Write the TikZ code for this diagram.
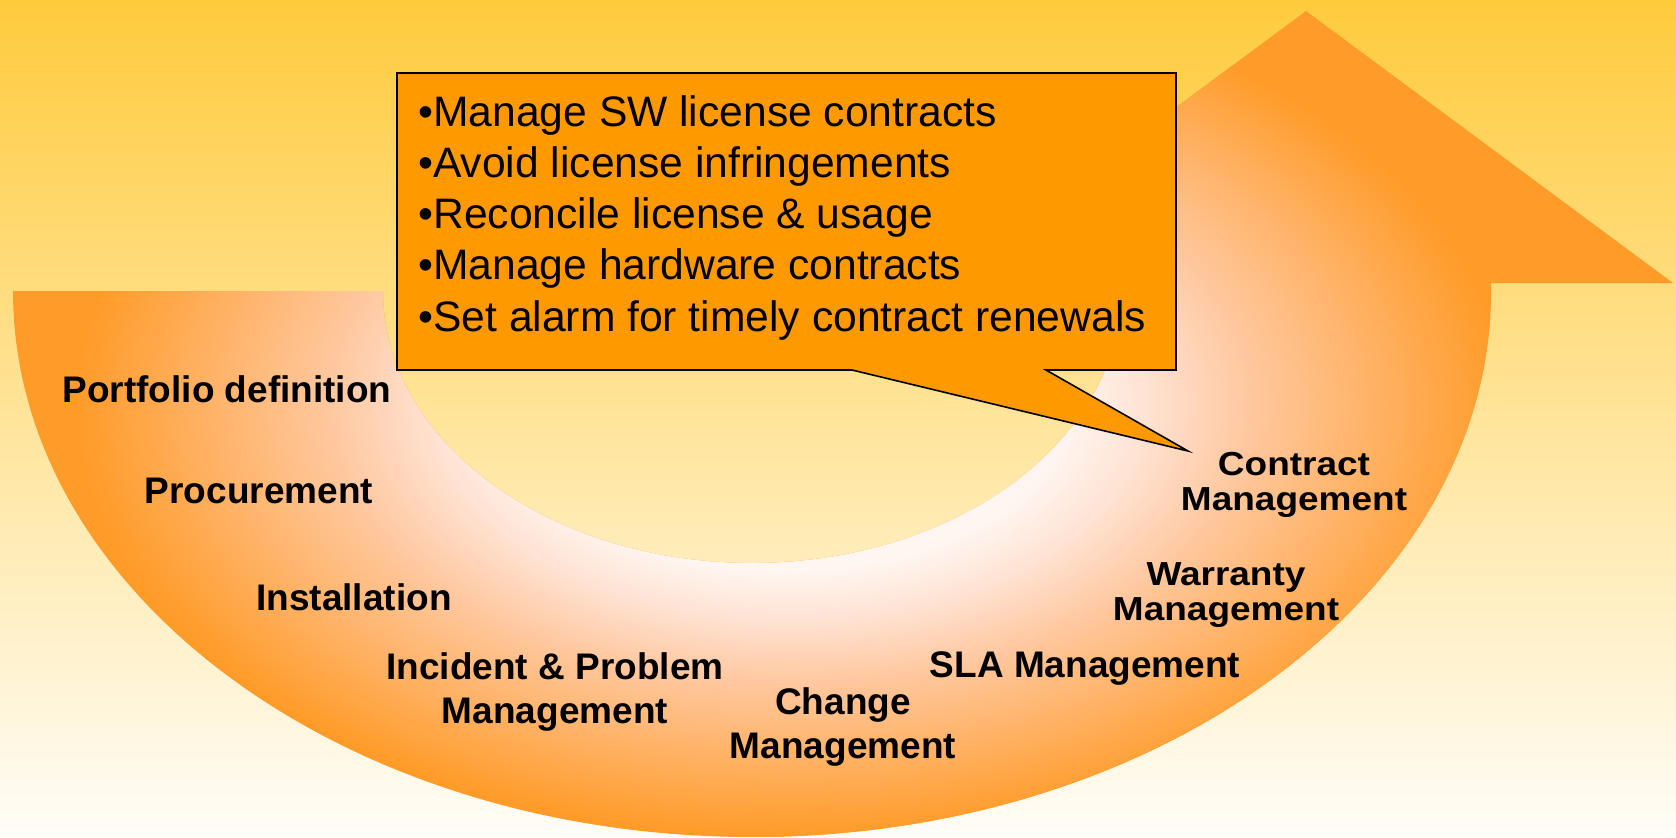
\documentclass[tikz,border=0pt]{standalone}
\usepackage{fontspec}
\setmainfont{Liberation Sans}

\definecolor{bgtop}{HTML}{FFCB3D}
\definecolor{bgmid}{HTML}{FFE4A0}
\definecolor{bgbot}{HTML}{FFFDF8}
\definecolor{uorange}{HTML}{FF9B28}
\definecolor{upeach}{HTML}{FFC8A0}
\definecolor{upale}{HTML}{FFE2D2}
\definecolor{uwhite}{HTML}{FFF6F2}
\definecolor{calloutfill}{HTML}{FF9900}

\pgfdeclareradialshading{uglow}{\pgfpoint{0bp}{0bp}}{color(0bp)=(uwhite); color(9.5bp)=(uwhite); color(12.5bp)=(upale); color(16bp)=(upeach); color(25bp)=(uorange); color(50bp)=(uorange)}

\begin{document}
\begin{tikzpicture}[
  x=0.5pt, y=-0.5pt,
  stage/.style={font=\bfseries\fontsize{18.5}{22}\selectfont, align=center, inner sep=0pt, anchor=base},
  flat/.style={stage, font=\bfseries\fontsize{18.5}{19}\selectfont, yscale=0.9, transform shape},
  tasklist/.style={font=\fontsize{21.3}{25.6}\selectfont, align=left, inner sep=0pt, anchor=base west},
  bubble/.style={fill=calloutfill, draw=black, line width=0.8pt, line join=miter}
]
  \useasboundingbox (0,0) rectangle (1676,837);
  \shade[top color=bgtop, middle color=bgmid, bottom color=bgbot] (0,0) rectangle (1676,837);

  \begin{scope}
    \clip (13,291) arc[start angle=180, end angle=0, x radius=739, y radius=546]
      -- (1491,283) -- (1673,283) -- (1306,11) -- (939,283) -- (1121,283) -- (1121,291)
      arc[start angle=0, end angle=180, x radius=369, y radius=272] -- cycle;
    \fill[uorange] (0,0) rectangle (1676,837);
    \shade[shading=uglow] (790,405) ellipse [x radius=715, y radius=432];
  \end{scope}

  \draw[bubble] (397,73) -- (1176,73) -- (1176,370) -- (1046,370) -- (1188,451) -- (852,370) -- (397,370) -- cycle;
  \node[tasklist] (tasks) at (418,331) {•Manage SW license contracts\\•Avoid license infringements\\•Reconcile license \& usage\\•Manage hardware contracts\\•Set alarm for timely contract renewals};

  \node[stage] (portfolio) at (227,402) {Portfolio definition};
  \node[stage] (procure) at (259,503) {Procurement};
  \node[stage] (install) at (354,610) {Installation};
  \node[stage] (incident) at (555,723) {Incident \& Problem\\Management};
  \node[stage] (change) at (843,758) {Change\\Management};
  \node[stage] (sla) at (1085,677) {SLA Management};
  \node[flat] (warranty) at (1226,620) {Warranty\\Management};
  \node[flat] (contract) at (1294,510) {Contract\\Management};
\end{tikzpicture}
\end{document}
